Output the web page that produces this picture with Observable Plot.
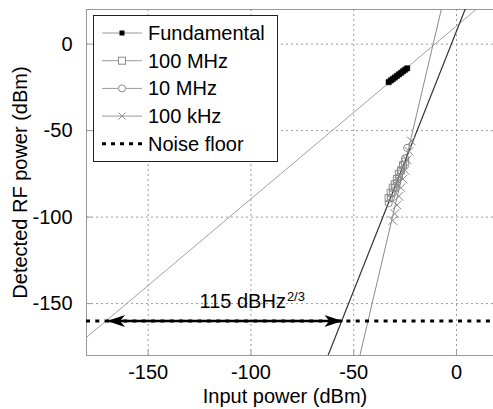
<!DOCTYPE html>
<html><head><meta charset="utf-8">
<script src="https://cdn.jsdelivr.net/npm/d3@7"></script>
<script src="https://cdn.jsdelivr.net/npm/@observablehq/plot@0.6"></script>
<style>html,body{margin:0;padding:0;background:#fff;} svg{display:block;}</style>
</head><body><div id="chart"></div>
<script>
// ---- data ----
const xTicks = [-150, -100, -50, 0];
const yTicks = [0, -50, -100, -150];
const xLabel = "Input power (dBm)";
const yLabel = "Detected RF power (dBm)";

const fundX = [-33, -32, -31, -30, -29, -28, -27, -26, -25, -24];
const fundY = [-22, -21, -20.2, -19.3, -18.4, -17.5, -16.6, -15.7, -14.8, -14];

const mhz100X = [-33, -32, -31, -30, -29, -28, -27, -26, -25];
const mhz100Y = [-89, -86, -83, -81, -78, -75, -73, -70, -68];

const mhz10X = [-33, -32, -31, -30, -29, -28, -27, -26, -25, -24];
const mhz10Y = [-92, -89, -86, -83, -80, -77, -73, -70, -66, -60];

const khz100X = [-31, -30, -29, -28, -27, -26, -25, -24, -23, -22];
const khz100Y = [-102, -98, -93, -88, -83, -78, -73, -67, -62, -56];

// fitted lines: y = slope * x + intercept
const fitSlope = [1, 3, 5.05];
const fitIntercept = [10.5, 7.5, 57.35];

const noiseFloor = -160;
const arrowX = [-170, -55.5];
const annotationMain = "115 dBHz";
const annotationSup = "2/3";
const annotationX = -83;

const legendLabels = ["Fundamental", "100 MHz", "10 MHz", "100 kHz", "Noise floor"];

// ---- build ----
const FONT = "'Liberation Sans', Arial, Helvetica, sans-serif";
const xDomain = [-180, 18];
const toPts = (xs, ys) => xs.map((x, i) => ({x, y: ys[i]}));
const fitPts = i => xDomain.map(x => ({x, y: fitSlope[i] * x + fitIntercept[i]}));
const fmt = d => String(d);

const headRight = {draw(c) { c.moveTo(0, 0); c.lineTo(-18, -6); c.lineTo(-13, 0); c.lineTo(-18, 6); c.closePath(); }};
const headLeft = {draw(c) { c.moveTo(0, 0); c.lineTo(18, -6); c.lineTo(13, 0); c.lineTo(18, 6); c.closePath(); }};

const gridStyle = {stroke: "#9a9a9a", strokeOpacity: 1, strokeDasharray: "2,3", strokeWidth: 1};

const chart = Plot.plot({
  width: 493, height: 409,
  marginLeft: 86, marginRight: 0, marginTop: 9, marginBottom: 54,
  style: {fontFamily: FONT, fontSize: "20px", color: "#000", background: "#fff"},
  x: {domain: xDomain},
  y: {domain: [-180, 20]},
  marks: [
    Plot.gridX(xTicks, gridStyle),
    Plot.gridY(yTicks, gridStyle),
    Plot.ruleY([-180, 20], {stroke: "#999"}),
    Plot.ruleX([-180], {stroke: "#999"}),
    Plot.axisX(xTicks, {tickSize: 0, tickPadding: 9, label: null, fontSize: 20, fill: "#000", tickFormat: fmt}),
    Plot.axisY(yTicks, {tickSize: 0, tickPadding: 14, label: null, fontSize: 20, fill: "#000", tickFormat: fmt}),
    Plot.axisX(xTicks, {tickSize: -5, tickFormat: () => "", label: null, stroke: "#999"}),
    Plot.axisY(yTicks, {tickSize: -5, tickFormat: () => "", label: null, stroke: "#999"}),
    // fit lines
    Plot.line(fitPts(0), {x: "x", y: "y", stroke: "#a0a0a0", strokeWidth: 1, clip: true}),
    Plot.line(fitPts(2), {x: "x", y: "y", stroke: "#8a8a8a", strokeWidth: 1, clip: true}),
    Plot.line(fitPts(1), {x: "x", y: "y", stroke: "#333", strokeWidth: 1.2, clip: true}),
    // data markers
    Plot.dot(toPts(khz100X, khz100Y), {x: "x", y: "y", symbol: "times", r: 4, stroke: "#8a8a8a", strokeWidth: 1}),
    Plot.dot(toPts(mhz10X, mhz10Y), {x: "x", y: "y", symbol: "circle", r: 3.6, stroke: "#8a8a8a", strokeWidth: 1, fill: "none"}),
    Plot.dot(toPts(mhz100X, mhz100Y), {x: "x", y: "y", symbol: "square", r: 4, stroke: "#8a8a8a", strokeWidth: 1, fill: "none"}),
    Plot.dot(toPts(fundX, fundY), {x: "x", y: "y", symbol: "square", r: 3, fill: "#000", stroke: "#000", strokeWidth: 0.5}),
    // noise floor
    Plot.ruleY([noiseFloor], {stroke: "#000", strokeWidth: 3, strokeDasharray: "4,5.3"}),
    // arrow
    Plot.link([{x1: arrowX[0], x2: arrowX[1], y: noiseFloor}], {x1: "x1", x2: "x2", y1: "y", y2: "y", stroke: "#000", strokeWidth: 2.5}),
    Plot.dot([{x: arrowX[1], y: noiseFloor}], {x: "x", y: "y", symbol: headRight, fill: "#000", stroke: "none"}),
    Plot.dot([{x: arrowX[0], y: noiseFloor}], {x: "x", y: "y", symbol: headLeft, fill: "#000", stroke: "none"}),
    // annotation
    Plot.text([annotationMain], {x: annotationX, y: noiseFloor, text: d => d, textAnchor: "end", lineAnchor: "bottom", dy: -13.4, fontSize: 20, fill: "#000"}),
    Plot.text([annotationSup], {x: annotationX, y: noiseFloor, text: d => d, textAnchor: "start", lineAnchor: "bottom", dx: 1, dy: -20.4, fontSize: 13, fill: "#000"}),
    // axis labels
    Plot.text([xLabel], {frameAnchor: "bottom", text: d => d, textAnchor: "middle", lineAnchor: "bottom", dy: 47, dx: -5, fontSize: 20, fill: "#000"}),
    Plot.text([yLabel], {frameAnchor: "left", text: d => d, rotate: -90, textAnchor: "middle", lineAnchor: "top", dx: -74, fontSize: 20, fill: "#000"})
  ]
});
document.getElementById("chart").appendChild(chart);

// ---- legend (inside axes, top-left) ----
const svg = d3.select(chart);
const lg = svg.append("g").attr("font-family", FONT).attr("font-size", 20).attr("text-anchor", "start");
lg.append("rect").attr("x", 93.5).attr("y", 15.5).attr("width", 184).attr("height", 146)
  .attr("fill", "#fff").attr("stroke", "#222").attr("stroke-width", 1);
legendLabels.forEach((label, i) => {
  const cy = 33 + i * 27.7;
  const isNoise = i === 4;
  lg.append("line").attr("x1", 102).attr("x2", 142).attr("y1", cy).attr("y2", cy)
    .attr("stroke", isNoise ? "#000" : "#9a9a9a")
    .attr("stroke-width", isNoise ? 3 : 1)
    .attr("stroke-dasharray", isNoise ? "4,5" : null);
  const g = lg.append("g").attr("transform", `translate(122,${cy})`);
  if (i === 0) g.append("rect").attr("x", -2.5).attr("y", -2.5).attr("width", 5).attr("height", 5).attr("fill", "#000");
  if (i === 1) g.append("rect").attr("x", -3.5).attr("y", -3.5).attr("width", 7).attr("height", 7).attr("fill", "#fff").attr("stroke", "#8a8a8a");
  if (i === 2) g.append("circle").attr("r", 3.5).attr("fill", "#fff").attr("stroke", "#8a8a8a");
  if (i === 3) g.append("path").attr("d", "M-3.5,-3.5L3.5,3.5M-3.5,3.5L3.5,-3.5").attr("stroke", "#8a8a8a").attr("fill", "none");
  lg.append("text").attr("x", 148).attr("y", cy).attr("dy", "0.35em").attr("fill", "#000").attr("text-anchor", "start").text(label);
});
</script>
</body></html>
